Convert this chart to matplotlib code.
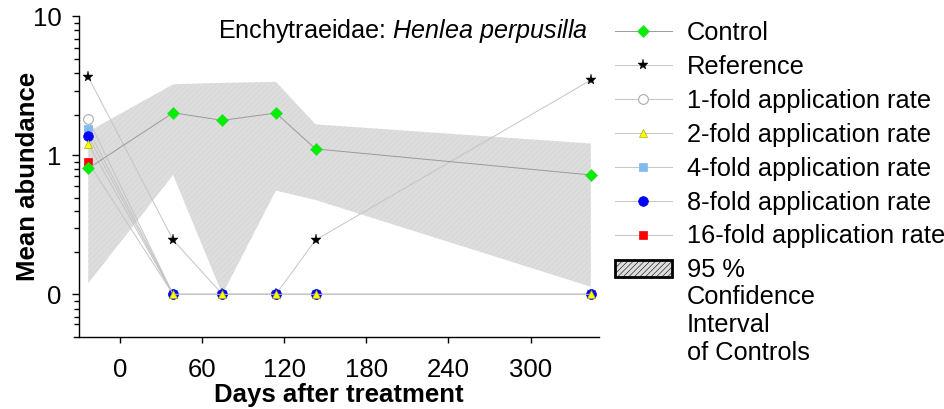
import numpy as np
import matplotlib
matplotlib.use('Agg')
import matplotlib.pyplot as plt
from matplotlib.patches import Patch

# data (days after treatment, mean abundance)
days = [-23, 39, 75, 114, 143, 344]
control = [0.79, 2.08, 1.83, 2.07, 1.12, 0.70]
reference = [3.76, 0.17, 0.0, 0.0, 0.17, 3.57]
fold1 = [1.87, 0, 0, 0, 0, 0]
fold2 = [1.22, 0, 0, 0, 0, 0]
fold4 = [1.57, 0, 0, 0, 0, 0]
fold8 = [1.40, 0, 0, 0, 0, 0]
fold16 = [0.88, 0, 0, 0, 0, 0]
ci_upper = [1.51, 3.33, 3.41, 3.47, 1.71, 1.23]
ci_lower = [0.024, 0.70, 0.0, 0.52, 0.43, 0.016]

x_ticks = [0, 60, 120, 180, 240, 300]
y_ticks = [0, 1, 10]
y_minor = [-0.047, -0.037, -0.026, -0.013,
           0.12, 0.23, 0.34, 0.45, 0.57, 0.68, 0.78, 0.89,
           2, 3, 4, 5, 6, 7, 8, 9]

plt.rcParams.update({
    'font.family': ['Liberation Sans', 'DejaVu Sans'],
    'font.size': 18,
    'mathtext.fontset': 'custom',
    'mathtext.rm': 'Liberation Sans',
    'mathtext.it': 'Liberation Sans:italic',
    'hatch.linewidth': 0.4,
})


def fwd(y):
    return np.log(np.clip(8 * np.asarray(y, dtype=float) + 1, 1e-6, None))


def inv(f):
    return (np.exp(f) - 1) / 8


W, H = 945, 409
fig = plt.figure(figsize=(W / 100, H / 100), dpi=100)
ax = fig.add_axes([74 / W, (H - 336.7) / H, (599 - 74) / W, (336.7 - 16.3) / H])
ax.set_yscale('function', functions=(fwd, inv))

band = ax.fill_between(days, ci_lower, ci_upper, facecolor='#dddddd', edgecolor='#d2d2d2',
                       hatch='//////', linewidth=0, zorder=1)

line_kw = dict(linewidth=0.7)
h_ctrl, = ax.plot(days, control, color='#9a9a9a', marker='D', ms=6, mfc='#00ee00',
                  mec='#33dd33', mew=0.5, zorder=8, label='Control', **line_kw)
h_ref, = ax.plot(days, reference, color='#c4c4c4', marker='*', ms=8, mfc='black',
                 mec='black', mew=0.3, zorder=2.5, label='Reference', **line_kw)
h1, = ax.plot(days, fold1, color='#c4c4c4', marker='o', ms=7, mfc='white',
              mec='#aaaaaa', mew=0.8, zorder=3, label='1-fold application rate', **line_kw)
h16, = ax.plot(days, fold16, color='#c4c4c4', marker='s', ms=6, mfc='#ff0000',
               mec='#ff0000', mew=0.5, zorder=4, label='16-fold application rate', **line_kw)
h4, = ax.plot(days, fold4, color='#c4c4c4', marker='s', ms=6, mfc='#80bbf0',
              mec='#80bbf0', mew=0.5, zorder=5, label='4-fold application rate', **line_kw)
h8, = ax.plot(days, fold8, color='#c4c4c4', marker='o', ms=7, mfc='#0000ff',
              mec='#0000ff', mew=0.5, zorder=6, label='8-fold application rate', **line_kw)
h2, = ax.plot(days, fold2, color='#c4c4c4', marker='^', ms=6, mfc='#ffff00',
              mec='#b0b000', mew=0.5, zorder=7, label='2-fold application rate', **line_kw)

ax.set_xlim(-33.4, 350)
ax.set_ylim(-0.061, 10)
ax.set_xticks(x_ticks)
ax.set_yticks(y_ticks)
ax.set_yticklabels([str(v) for v in y_ticks])
ax.set_yticks(y_minor, minor=True)
ax.tick_params(axis='both', labelsize=18.5)
ax.tick_params(axis='x', direction='out', length=4.5, width=1, pad=11)
ax.tick_params(axis='y', which='major', direction='out', length=5.3, width=1, pad=7)
ax.tick_params(axis='y', which='minor', direction='out', length=3.6, width=1)
ax.spines['top'].set_visible(False)
ax.spines['right'].set_visible(False)
ax.spines['left'].set_position(('data', -30))
for s in ['left', 'bottom']:
    ax.spines[s].set_linewidth(1)

ax.text(588 / W, 1 - 38 / H, r'Enchytraeidae: $\mathit{Henlea\ perpusilla}$',
        transform=fig.transFigure, ha='right', va='baseline', fontsize=18.1)

fig.text(28 / W, 1 - 176 / H, 'Mean abundance', rotation=90, ha='center', va='center',
         fontweight='bold', fontsize=18.5)
fig.text(339 / W, 1 - 395 / H, 'Days after treatment', ha='center', va='center',
         fontweight='bold', fontsize=18.5)

ci_patch = Patch(facecolor='#dddddd', edgecolor='black', hatch='//////', linewidth=2)
handles = [h_ctrl, h_ref, h1, h2, h4, h8, h16, ci_patch]
labels = ['Control', 'Reference', '1-fold application rate', '2-fold application rate',
          '4-fold application rate', '8-fold application rate', '16-fold application rate',
          '95 %']
fig.legend(handles, labels, loc='upper left', bbox_to_anchor=(615 / W, 1 - 21 / H),
           frameon=False, fontsize=18.3, numpoints=1, handlelength=2.24, handletextpad=0.59,
           labelspacing=0.39, borderpad=0, borderaxespad=0)
fig.text(687 / W, 1 - 285 / H, 'Confidence\nInterval\nof Controls', ha='left', va='top',
         fontsize=18.3, linespacing=1.2, transform=fig.transFigure)

fig.savefig('out.png', dpi=100)
